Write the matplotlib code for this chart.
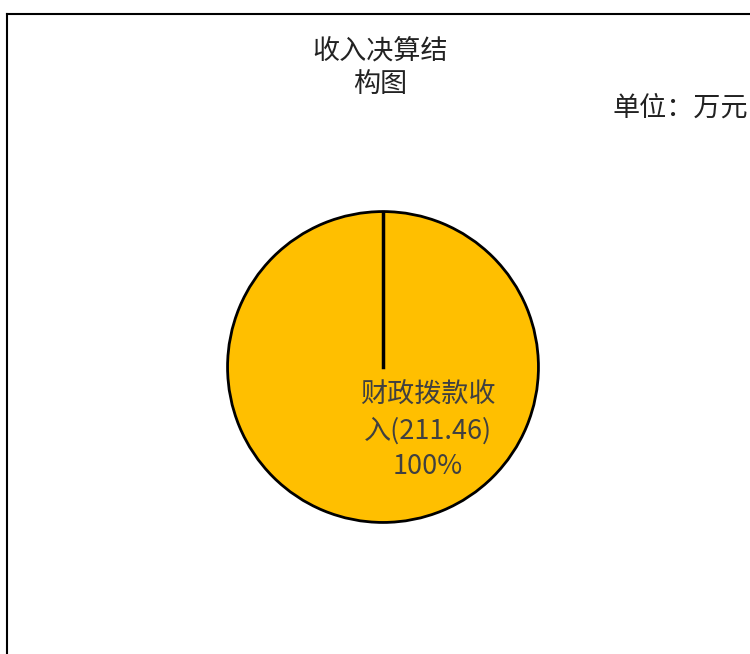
import numpy as np
import matplotlib
matplotlib.use('Agg')
import matplotlib.pyplot as plt
from matplotlib.lines import Line2D

plt.rcParams['font.family'] = ['Noto Sans CJK SC', 'DejaVu Sans']

# Data
labels = ['财政拨款收\n入(211.46)']
values = [211.46]
colors = ['#FFBF00']
title = '收入决算结\n构图'
unit = '单位：万元'

W, H = 750, 654
fig = plt.figure(figsize=(W / 100, H / 100), dpi=100)

# chart border (only left and top visible in the crop)
fig.add_artist(Line2D([7 / W, 7 / W], [0, 1 - 14 / H], color='black', lw=1.5))
fig.add_artist(Line2D([7 / W, 1], [1 - 14 / H, 1 - 14 / H], color='black', lw=1.5))

# pie centre (383, 367), radius 157 px
cx, cy, r = 383, 367, 157
ax = fig.add_axes([(cx - r) / W, 1 - (cy + r) / H, 2 * r / W, 2 * r / H])
wedges, _ = ax.pie(values, colors=colors, startangle=90, counterclock=False,
                   wedgeprops={'edgecolor': 'black', 'linewidth': 2})
# a full-circle wedge has no radial edge, draw it from the wedge itself
w = wedges[0]
t = np.deg2rad(w.theta2)
ax.plot([w.center[0], w.center[0] + w.r * np.cos(t)],
        [w.center[1], w.center[1] + w.r * np.sin(t)], color='black', lw=2.5)
ax.set_xlim(-1.01, 1.01)
ax.set_ylim(-1.01, 1.01)
ax.axis('off')

pct = values[0] / sum(values) * 100
ax.text(0.29, -0.41, labels[0] + '\n%d%%' % round(pct), ha='center', va='center',
        fontsize=19.5, color='#404040', linespacing=1.4)

fig.text(380 / W, 1 - 68 / H, title, ha='center', va='center', fontsize=19.5,
         color='#222222', linespacing=1.25)
fig.text(612 / W, 1 - 108 / H, unit, ha='left', va='center', fontsize=19.5,
         color='#222222')

fig.savefig('out.png', dpi=100)
